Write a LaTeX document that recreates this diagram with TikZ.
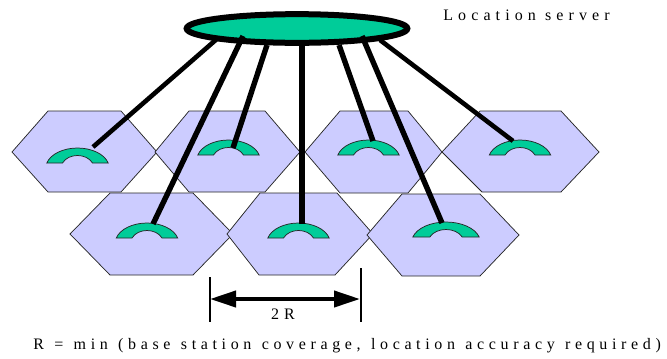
\documentclass[tikz,border=0pt]{standalone}
\usepackage{fontspec}
\setmainfont[LetterSpace=32]{Liberation Serif}
\newfontfamily\formulafont[LetterSpace=29,WordSpace=1.2]{Liberation Serif}
\usetikzlibrary{arrows.meta,shapes.geometric}
\definecolor{cellblue}{HTML}{CCCCFF}
\definecolor{servergreen}{HTML}{00CC99}
\tikzset{
  cell/.style={draw=black!85,line width=0.55pt,fill=cellblue,line join=miter},
  link/.style={draw=black,line width=#1*0.75pt},
  label/.style={inner sep=0pt,font=\fontsize{12}{14}\selectfont},
  tick/.style={draw=black,line width=0.9pt},
  handset/.pic={
    \path[draw=black!85,line width=0.55pt,fill=servergreen]
      (-30.7,0) .. controls (-27,-9) and (-14,-15) .. (0,-15)
      .. controls (14,-15) and (27,-9) .. (30.7,0)
      -- (15,0) .. controls (12,-5) and (6,-7.5) .. (0,-7.5)
      .. controls (-6,-7.5) and (-12,-5) .. (-15,0) -- cycle;
  }
}
\begin{document}
\begin{tikzpicture}[x=0.75pt,y=-0.75pt]
\useasboundingbox (0,0) rectangle (667,358);
% cells
\path[cell] (12,152) -- (48,111) -- (121,111) -- (157,152) -- (121,192) -- (48,192) -- cycle;
\path[cell] (155,152) -- (189,111) -- (265,111) -- (300,152) -- (265,192) -- (189,192) -- cycle;
\path[cell] (305,152) -- (340,111) -- (408,111) -- (442,152) -- (408,193) -- (340,193) -- cycle;
\path[cell] (442,152) -- (480,111) -- (561,111) -- (599,152) -- (561,192) -- (482,192) -- cycle;
\path[cell] (70,234) -- (110,193) -- (193,193) -- (233,234) -- (193,275) -- (110,275) -- cycle;
\path[cell] (227,234) -- (260,193) -- (337,193) -- (373,234) -- (335,275) -- (259,275) -- cycle;
\path[cell] (367,235) -- (402,194) -- (480,194) -- (519,235) -- (480,276) -- (402,276) -- cycle;
% handsets
\pic at (77.5,163) {handset};
\pic at (228.5,155) {handset};
\pic at (368.5,155) {handset};
\pic at (520,155) {handset};
\pic at (147,238) {handset};
\pic at (298.5,238) {handset};
\pic[xscale=1.08] at (446,237) {handset};
% connector ends
\coordinate (s1) at (218,38);
\coordinate (s2) at (243,36);
\coordinate (s3) at (267,45);
\coordinate (s4) at (302,43);
\coordinate (s5) at (339,45);
\coordinate (s6) at (362,36);
\coordinate (s7) at (380,40);
\coordinate (p1) at (93,147);
\coordinate (p2) at (233,148);
\coordinate (p3) at (373,141);
\coordinate (p4) at (513,141);
\coordinate (p5) at (153,224);
\coordinate (p6) at (302,224);
\coordinate (p7) at (442,223);
% server
\node[draw=black,line width=4.5pt,fill=servergreen,ellipse,inner sep=0pt,minimum width=165.5pt,minimum height=21.5pt] (server) at (297,28.5) {};
% links
\draw[link=4.6] (s1) -- (p1);
\draw[link=5.4] (s2) -- (p5);
\draw[link=5.4] (s3) -- (p2);
\draw[link=6.3] (s4) -- (p6);
\draw[link=5.4] (s5) -- (p3);
\draw[link=5.4] (s6) -- (p7);
\draw[link=4.6] (s7) -- (p4);
% dimension
\coordinate (a1) at (210,277);
\coordinate (a2) at (210,322);
\coordinate (b1) at (361,268);
\coordinate (b2) at (361,322);
\coordinate (c1) at (210,299);
\coordinate (c2) at (360,299);
\draw[tick] (a1) -- (a2);
\draw[tick] (b1) -- (b2);
\draw[draw=black,line width=3pt,{Triangle[length=19.5pt,width=12pt]}-{Triangle[length=19.5pt,width=12pt]},shorten <=0pt,shorten >=0pt] (c1) -- (c2);
% text
\node[label] (dim) at (283,314) {2R};
\node[label,anchor=west] (title) at (443,15) {Location server};
\node[label,anchor=west] (formula) at (33,346) {\formulafont R = min (base station coverage, location accuracy required)};
\end{tikzpicture}
\end{document}
